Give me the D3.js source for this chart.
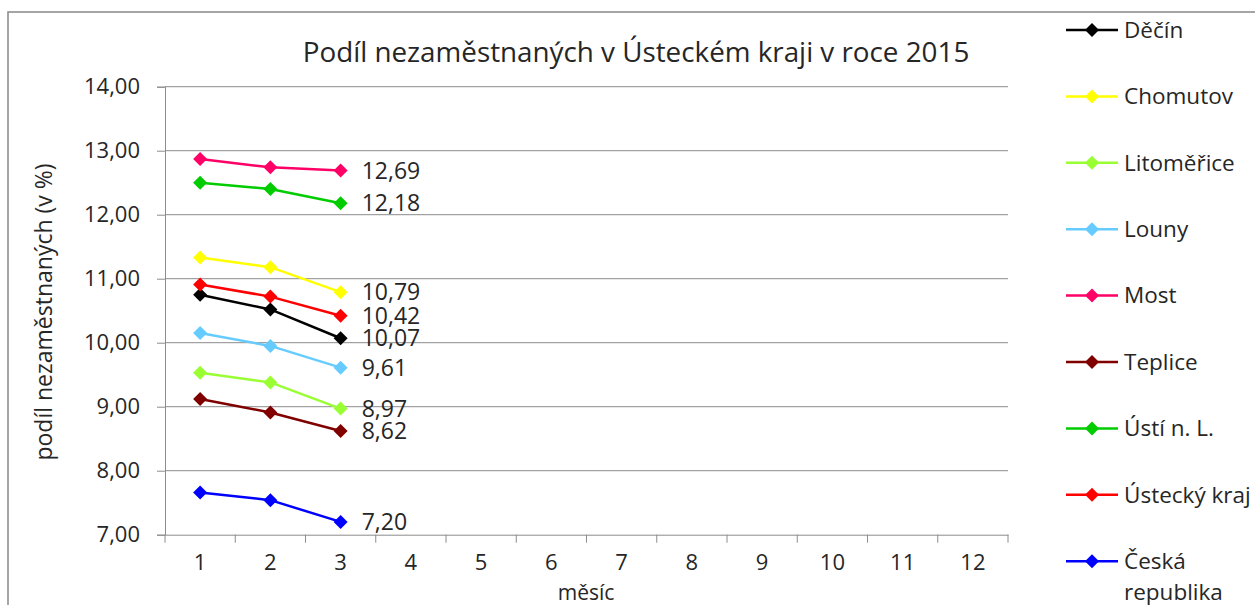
<!DOCTYPE html>
<html><head><meta charset="utf-8">
<script src="https://cdn.jsdelivr.net/npm/d3@7"></script>
<style>body{margin:0;background:#fff}svg{display:block}text{font-family:"Open Sans",sans-serif;fill:#262626}</style>
</head><body><svg id="c" width="1255" height="605"></svg>
<script>
const months = ["1","2","3","4","5","6","7","8","9","10","11","12"];
const yTicks = [7,8,9,10,11,12,13,14];
const seriesNames = ["Děčín","Chomutov","Litoměřice","Louny","Most","Teplice","Ústí n. L.","Ústecký kraj","Česká republika"];
const seriesColors = ["#000000","#ffff00","#99ff33","#66ccff","#ff0066","#800000","#00cc00","#ff0000","#0000ff"];
const decin = [10.75,10.52,10.07];
const chomutov = [11.33,11.18,10.79];
const litomerice = [9.53,9.38,8.97];
const louny = [10.15,9.95,9.61];
const most = [12.87,12.74,12.69];
const teplice = [9.12,8.91,8.62];
const usti = [12.50,12.40,12.18];
const usteckyKraj = [10.91,10.72,10.42];
const cr = [7.66,7.54,7.20];
const seriesValues = [decin,chomutov,litomerice,louny,most,teplice,usti,usteckyKraj,cr];

const svg = d3.select("#c");
const L=165,R=1008,T=86.7,B=534.7;
const x = d3.scaleBand().domain(months).range([L,R]);
const y = d3.scaleLinear().domain([7,14]).range([B,T]);
const fmt = v => d3.format(".2f")(v).replace(".",",");
const FONT = "Open Sans";

svg.append("rect").attr("x",8).attr("y",12).attr("width",1300).attr("height",700).attr("fill","none").attr("stroke","#888").attr("stroke-width",1.5);

svg.append("g").selectAll("line").data(yTicks.filter(d=>d>7)).join("line")
  .attr("x1",L).attr("x2",R).attr("y1",d=>y(d)).attr("y2",d=>y(d)).attr("stroke","#8c8c8c").attr("stroke-width",1);

const ya = svg.append("g").attr("transform",`translate(${L},0)`).call(d3.axisLeft(y).tickValues(yTicks).tickFormat(fmt).tickSize(8).tickPadding(17));
ya.select(".domain").attr("stroke","#8c8c8c");
ya.selectAll(".tick line").attr("stroke","#8c8c8c");
ya.selectAll("text").attr("font-size",22).attr("fill","#262626").attr("font-family",FONT);

const xa = svg.append("g").attr("transform",`translate(0,${B})`).call(d3.axisBottom(x).tickSize(0).tickPadding(20));
xa.select(".domain").attr("stroke","#8c8c8c");
xa.selectAll("text").attr("font-size",22).attr("fill","#262626").attr("font-family",FONT);
svg.append("g").selectAll("line").data(months.concat(["end"])).join("line")
  .attr("x1",(d,i)=>L+i*x.bandwidth()).attr("x2",(d,i)=>L+i*x.bandwidth())
  .attr("y1",B).attr("y2",B+8).attr("stroke","#8c8c8c");

svg.append("text").attr("x",636).attr("y",62).attr("text-anchor","middle").attr("font-size",27.8).text("Podíl nezaměstnaných v Ústeckém kraji v roce 2015");
svg.append("text").attr("transform","translate(52,312) rotate(-90)").attr("text-anchor","middle").attr("font-size",23).text("podíl nezaměstnaných (v %)");
svg.append("text").attr("x",586).attr("y",600).attr("text-anchor","middle").attr("font-size",21).text("měsíc");

const line = d3.line().x((d,i)=>x(months[i])+x.bandwidth()/2).y(d=>y(d));
const diamond = "M0,-7L7,0L0,7L-7,0Z";
seriesValues.forEach((vals,si)=>{
  const g = svg.append("g");
  g.append("path").datum(vals).attr("d",line).attr("fill","none").attr("stroke",seriesColors[si]).attr("stroke-width",2.5);
  g.selectAll("path.m").data(vals).join("path").attr("class","m")
    .attr("d",diamond).attr("fill",seriesColors[si])
    .attr("transform",(d,i)=>`translate(${x(months[i])+x.bandwidth()/2},${y(d)})`);
  const last = vals.length-1;
  g.append("text").attr("x",x(months[last])+x.bandwidth()/2+21).attr("y",y(vals[last]))
    .attr("dy","0.35em").attr("font-size",23).text(fmt(vals[last]));
});

const lg = svg.append("g");
seriesNames.forEach((n,i)=>{
  const yy = 30 + i*66.4;
  lg.append("line").attr("x1",1066).attr("x2",1118).attr("y1",yy).attr("y2",yy).attr("stroke",seriesColors[i]).attr("stroke-width",2.5);
  lg.append("path").attr("d",diamond).attr("fill",seriesColors[i]).attr("transform",`translate(1092,${yy})`);
  const parts = n==="Česká republika" ? ["Česká","republika"] : [n];
  parts.forEach((p,j)=>lg.append("text").attr("x",1124).attr("y",yy+j*31).attr("dy","0.35em").attr("font-size",22.5).text(p));
});
</script></body></html>
